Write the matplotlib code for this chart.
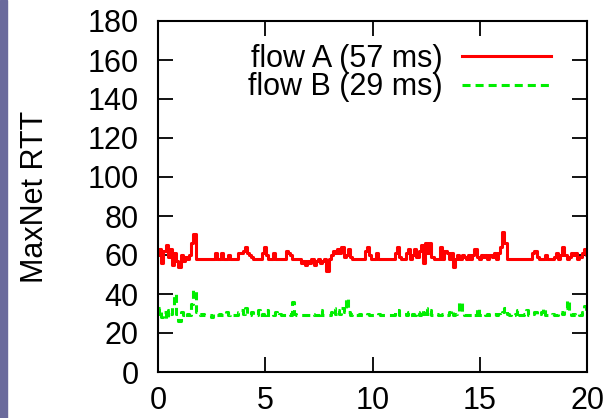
import numpy as np
import matplotlib
matplotlib.use("Agg")
import matplotlib.pyplot as plt
from matplotlib.patches import Rectangle

## DATA

# time axis, 0.1 s steps
t = np.arange(0, 201) / 10.0

# flow A RTT (ms)
rtt_a = [60, 63, 56, 62, 65, 59, 63, 55, 61, 57,
         54, 60, 57, 59, 58, 60, 66, 71, 58, 58,
         58, 58, 58, 58, 58, 58, 58, 61, 58, 58,
         61, 58, 58, 60, 58, 58, 58, 58, 61, 61,
         62, 64, 61, 60, 59, 58, 58, 58, 58, 61,
         64, 60, 58, 58, 61, 58, 58, 58, 58, 58,
         62, 61, 60, 58, 58, 58, 58, 56, 57, 55,
         57, 56, 58, 55, 57, 58, 56, 57, 58, 52,
         58, 60, 62, 61, 63, 61, 64, 59, 60, 63,
         59, 58, 58, 58, 58, 58, 58, 62, 64, 60,
         58, 58, 61, 58, 58, 58, 58, 58, 58, 58,
         58, 61, 64, 59, 58, 58, 61, 63, 58, 60,
         63, 59, 62, 65, 56, 66, 61, 66, 59, 58,
         58, 58, 64, 58, 62, 61, 58, 61, 54, 58,
         60, 58, 60, 59, 58, 60, 58, 60, 63, 59,
         58, 60, 59, 60, 58, 60, 59, 61, 58, 61,
         64, 72, 66, 58, 58, 58, 58, 58, 58, 58,
         58, 58, 58, 58, 58, 61, 62, 59, 58, 58,
         58, 60, 58, 58, 58, 59, 61, 58, 60, 64,
         60, 58, 59, 61, 60, 61, 58, 59, 61, 63,
         60]

# flow B RTT (ms)
rtt_b = [30, 33, 28, 31, 27, 32, 30, 34, 40, 30,
         26, 31, 29, 28, 30, 29, 35, 42, 31, 30,
         29, 30, 29, 29, 29, 28, 30, 29, 29, 30,
         29, 29, 31, 29, 30, 29, 29, 29, 31, 32,
         30, 33, 30, 29, 31, 29, 29, 32, 29, 30,
         29, 32, 29, 30, 29, 31, 29, 30, 29, 29,
         29, 30, 29, 36, 30, 29, 29, 29, 29, 29,
         29, 29, 30, 29, 29, 29, 32, 29, 29, 29,
         29, 31, 33, 30, 32, 30, 33, 31, 38, 31,
         29, 30, 29, 29, 30, 29, 29, 29, 30, 29,
         29, 29, 29, 30, 29, 29, 29, 29, 29, 29,
         29, 31, 32, 29, 29, 30, 29, 31, 29, 30,
         29, 31, 29, 32, 30, 33, 30, 32, 29, 29,
         30, 29, 29, 30, 29, 29, 31, 32, 29, 30,
         31, 36, 31, 29, 29, 29, 29, 30, 29, 33,
         29, 29, 30, 29, 30, 29, 29, 30, 29, 30,
         29, 31, 33, 30, 29, 30, 29, 30, 32, 29,
         29, 30, 32, 29, 29, 30, 31, 29, 30, 31,
         33, 29, 29, 29, 30, 29, 29, 30, 31, 30,
         33, 37, 31, 29, 30, 29, 30, 29, 31, 34,
         31]

labels = ["flow A (57 ms)", "flow B (29 ms)"]
x_ticks = [0, 5, 10, 15, 20]
y_ticks = list(range(0, 181, 20))

## STYLE

plt.rcParams['font.family'] = ['Liberation Sans', 'DejaVu Sans']
plt.rcParams['lines.scale_dashes'] = False

fs = 22

fig = plt.figure(figsize=(6.11, 4.18), dpi=100)
ax = fig.add_axes([158 / 611, 1 - 372 / 418, 429 / 611, 351 / 418])

# purple strip on the left edge
fig.patches.append(Rectangle((0, 0), 7 / 611, 1, transform=fig.transFigure,
                             color="#6a6a9c", zorder=0))

ax.plot(t, rtt_a, color="#ff0000", lw=2.2, drawstyle="steps-mid", label=labels[0])
ax.plot(t, rtt_b, color="#00ee00", lw=2.2, drawstyle="steps-mid",
        dashes=(5.8, 3.6), label=labels[1])

ax.set_xlim(0, 20)
ax.set_ylim(0, 180)
ax.set_xticks(x_ticks)
ax.set_yticks(y_ticks)
ax.tick_params(direction="in", length=11, width=1.3, labelsize=fs,
               top=True, right=True)
ax.tick_params(axis="y", pad=14)
ax.tick_params(axis="x", pad=10)
for s in ax.spines.values():
    s.set_linewidth(1.5)

ax.set_ylabel("MaxNet RTT", fontsize=fs, labelpad=27)

ax.legend(loc="upper right", bbox_to_anchor=(0.944, 0.97), frameon=False,
          markerfirst=False, fontsize=fs, handlelength=2.9,
          handletextpad=0.65, labelspacing=-0.05, borderaxespad=0)

fig.savefig("out.png", dpi=100)
